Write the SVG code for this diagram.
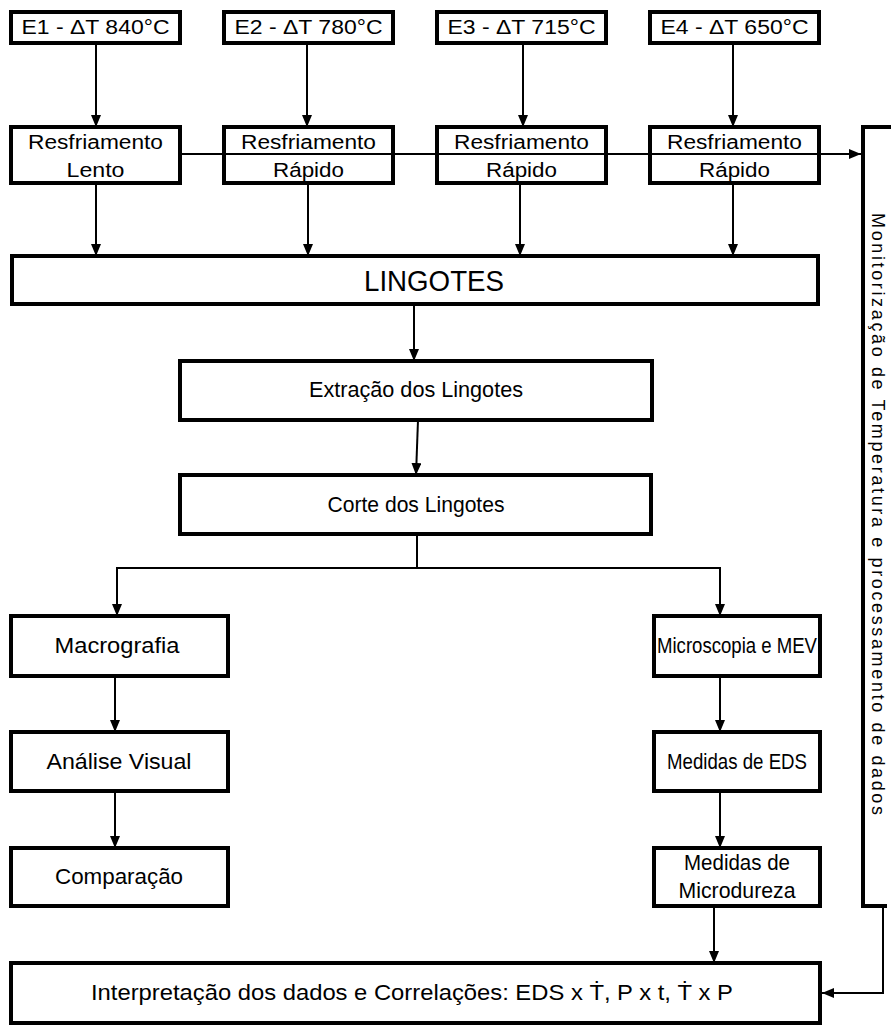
<svg xmlns="http://www.w3.org/2000/svg" width="891" height="1026" viewBox="0 0 891 1026">
<style>
.box{fill:#fff;stroke:#000;stroke-width:4}
.t{font-family:"Liberation Sans",Arial,sans-serif;fill:#000;text-anchor:middle}
.c{stroke:#000;stroke-width:2;fill:none}
.k{stroke:#000;stroke-width:4;fill:none}
</style>
<defs>
<marker id="ah" markerWidth="12" markerHeight="10" refX="12" refY="5" orient="auto" markerUnits="userSpaceOnUse">
<path d="M0,0 L12,5 L0,10 Z" fill="#000"/>
</marker>
</defs>
<rect width="891" height="1026" fill="#fff"/>
<g id="e1"><rect class="box" x="11" y="12" width="169" height="31"/><text class="t" x="95.5" y="34" font-size="20" textLength="148" lengthAdjust="spacingAndGlyphs">E1 - ΔT 840°C</text></g>
<g id="e2"><rect class="box" x="224" y="12" width="169" height="31"/><text class="t" x="308.5" y="34" font-size="20" textLength="148" lengthAdjust="spacingAndGlyphs">E2 - ΔT 780°C</text></g>
<g id="e3"><rect class="box" x="437" y="12" width="169" height="31"/><text class="t" x="521.5" y="34" font-size="20" textLength="148" lengthAdjust="spacingAndGlyphs">E3 - ΔT 715°C</text></g>
<g id="e4"><rect class="box" x="650" y="12" width="169" height="31"/><text class="t" x="734.5" y="34" font-size="20" textLength="148" lengthAdjust="spacingAndGlyphs">E4 - ΔT 650°C</text></g>
<g id="r1"><rect class="box" x="11" y="127" width="169" height="56"/><text class="t" x="95.5" y="149" font-size="20" textLength="135" lengthAdjust="spacingAndGlyphs">Resfriamento</text><text class="t" x="95.5" y="177" font-size="20" textLength="58" lengthAdjust="spacingAndGlyphs">Lento</text></g>
<g id="r2"><rect class="box" x="224" y="127" width="169" height="56"/><text class="t" x="308.5" y="149" font-size="20" textLength="135" lengthAdjust="spacingAndGlyphs">Resfriamento</text><text class="t" x="308.5" y="177" font-size="20" textLength="71" lengthAdjust="spacingAndGlyphs">Rápido</text></g>
<g id="r3"><rect class="box" x="437" y="127" width="169" height="56"/><text class="t" x="521.5" y="149" font-size="20" textLength="135" lengthAdjust="spacingAndGlyphs">Resfriamento</text><text class="t" x="521.5" y="177" font-size="20" textLength="71" lengthAdjust="spacingAndGlyphs">Rápido</text></g>
<g id="r4"><rect class="box" x="650" y="127" width="169" height="56"/><text class="t" x="734.5" y="149" font-size="20" textLength="135" lengthAdjust="spacingAndGlyphs">Resfriamento</text><text class="t" x="734.5" y="177" font-size="20" textLength="71" lengthAdjust="spacingAndGlyphs">Rápido</text></g>
<g id="lingotes"><rect class="box" x="12" y="256" width="806" height="48"/><text class="t" x="434" y="291" font-size="30" textLength="140" lengthAdjust="spacingAndGlyphs">LINGOTES</text></g>
<g id="extracao"><rect class="box" x="180" y="361" width="472" height="59"/><text class="t" x="416" y="397" font-size="22" textLength="214" lengthAdjust="spacingAndGlyphs">Extração dos Lingotes</text></g>
<g id="corte"><rect class="box" x="180" y="475" width="471" height="59"/><text class="t" x="416" y="512" font-size="22" textLength="177" lengthAdjust="spacingAndGlyphs">Corte dos Lingotes</text></g>
<g id="macrografia"><rect class="box" x="11" y="616" width="217" height="60"/><text class="t" x="117" y="653" font-size="22" textLength="125" lengthAdjust="spacingAndGlyphs">Macrografia</text></g>
<g id="microscopia"><rect class="box" x="654" y="616" width="166" height="60"/><text class="t" x="737" y="653" font-size="22" textLength="160" lengthAdjust="spacingAndGlyphs">Microscopia e MEV</text></g>
<g id="analise"><rect class="box" x="11" y="732" width="217" height="59"/><text class="t" x="119" y="769" font-size="22" textLength="145" lengthAdjust="spacingAndGlyphs">Análise Visual</text></g>
<g id="eds"><rect class="box" x="654" y="732" width="166" height="59"/><text class="t" x="737" y="769" font-size="22" textLength="140" lengthAdjust="spacingAndGlyphs">Medidas de EDS</text></g>
<g id="comparacao"><rect class="box" x="11" y="848" width="217" height="58"/><text class="t" x="119" y="884" font-size="22" textLength="128" lengthAdjust="spacingAndGlyphs">Comparação</text></g>
<g id="microdureza"><rect class="box" x="654" y="848" width="166" height="58"/><text class="t" x="737" y="870" font-size="22" textLength="106" lengthAdjust="spacingAndGlyphs">Medidas de</text><text class="t" x="737" y="898" font-size="22" textLength="117" lengthAdjust="spacingAndGlyphs">Microdureza</text></g>
<g id="interpretacao"><rect class="box" x="11" y="963" width="809" height="60"/><text class="t" x="412" y="1000" font-size="22" textLength="642" lengthAdjust="spacingAndGlyphs">Interpretação dos dados e Correlações: EDS x Ṫ, P x t, Ṫ x P</text></g>
<g id="monitorizacao"><path class="k" d="M891,127 H863 V906 H887"/><text class="t" transform="translate(872,514) rotate(90)" x="0" y="0" font-size="18" textLength="602" lengthAdjust="spacing">Monitorização de Temperatura e processamento de dados</text></g>
<g id="connectors">
<line class="c" x1="96" y1="43" x2="96" y2="127" marker-end="url(#ah)"/>
<line class="c" x1="307" y1="43" x2="307" y2="127" marker-end="url(#ah)"/>
<line class="c" x1="523" y1="43" x2="523" y2="127" marker-end="url(#ah)"/>
<line class="c" x1="733" y1="43" x2="733" y2="127" marker-end="url(#ah)"/>
<line class="c" x1="180" y1="154" x2="861" y2="154" marker-end="url(#ah)"/>
<line class="c" x1="96" y1="183" x2="96" y2="256" marker-end="url(#ah)"/>
<line class="c" x1="308" y1="183" x2="308" y2="256" marker-end="url(#ah)"/>
<line class="c" x1="520" y1="183" x2="520" y2="256" marker-end="url(#ah)"/>
<line class="c" x1="733" y1="183" x2="733" y2="256" marker-end="url(#ah)"/>
<line class="c" x1="414" y1="304" x2="414" y2="361" marker-end="url(#ah)"/>
<line class="c" x1="418" y1="420" x2="416" y2="475" marker-end="url(#ah)"/>
<path class="c" d="M417,534 V568 M117,568 H720"/>
<line class="c" x1="117" y1="567" x2="117" y2="616" marker-end="url(#ah)"/>
<line class="c" x1="720" y1="567" x2="720" y2="616" marker-end="url(#ah)"/>
<line class="c" x1="115" y1="676" x2="115" y2="732" marker-end="url(#ah)"/>
<line class="c" x1="720" y1="676" x2="720" y2="732" marker-end="url(#ah)"/>
<line class="c" x1="115" y1="791" x2="115" y2="848" marker-end="url(#ah)"/>
<line class="c" x1="720" y1="791" x2="720" y2="848" marker-end="url(#ah)"/>
<line class="c" x1="714" y1="906" x2="714" y2="963" marker-end="url(#ah)"/>
<path class="c" d="M883,906 V993 H822" stroke-width="3" marker-end="url(#ah)"/>
</g>
</svg>
